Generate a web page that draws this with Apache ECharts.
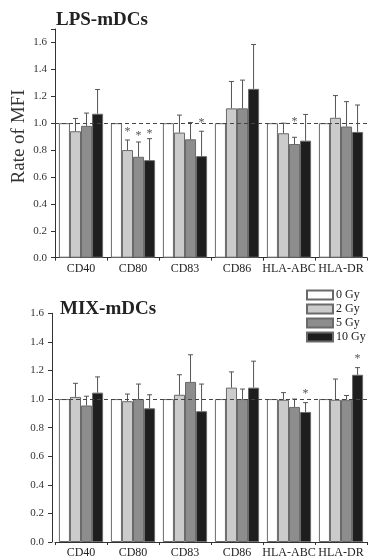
<!DOCTYPE html>
<html>
<head>
<meta charset="UTF-8">
<script src="https://cdn.jsdelivr.net/npm/echarts@6/dist/echarts.min.js"></script>
<style>
  html, body, #chart { margin: 0; padding: 0; width: 368px; height: 559px; background: #fff; }
</style>
</head>
<body>
<div id="chart"></div>
<script>
    var markers = ["CD40", "CD80", "CD83", "CD86", "HLA-ABC", "HLA-DR"];
    var doses = ["0 Gy", "2 Gy", "5 Gy", "10 Gy"];

    // LPS-mDCs: mean rate of MFI and top of error bar, per dose
    var lps0 = [1, 1, 1, 1, 1, 1];
    var lps2 = [0.94, 0.80, 0.93, 1.11, 0.925, 1.04];
    var lps5 = [0.98, 0.75, 0.88, 1.11, 0.845, 0.975];
    var lps10 = [1.07, 0.725, 0.755, 1.255, 0.87, 0.935];
    var lps2Err = [1.035, 0.875, 1.06, 1.31, 1.0, 1.205];
    var lps5Err = [1.075, 0.86, 1.005, 1.32, 0.895, 1.16];
    var lps10Err = [1.25, 0.885, 0.94, 1.585, 1.065, 1.135];
    // asterisk levels (0 = none)
    var lps2Star = [0, 0.955, 0, 0, 0, 0];
    var lps5Star = [0, 0.93, 0, 0, 1.035, 0];
    var lps10Star = [0, 0.945, 1.025, 0, 0, 0];

    // MIX-mDCs
    var mix0 = [1, 1, 1, 1, 1, 1];
    var mix2 = [1.015, 0.985, 1.03, 1.08, 0.995, 0.995];
    var mix5 = [0.955, 1.0, 1.12, 1.0, 0.945, 0.995];
    var mix10 = [1.045, 0.935, 0.915, 1.08, 0.91, 1.17];
    var mix2Err = [1.11, 1.035, 1.17, 1.19, 1.045, 1.14];
    var mix5Err = [1.02, 1.105, 1.31, 1.07, 1.0, 1.025];
    var mix10Err = [1.155, 1.03, 1.105, 1.265, 0.975, 1.22];
    var mix2Star = [0, 0, 0, 0, 0, 0];
    var mix5Star = [0, 0, 0, 0, 0, 0];
    var mix10Star = [0, 0, 0, 0, 1.055, 1.305];

    var yTicks = ["0.0", "0.2", "0.4", "0.6", "0.8", "1.0", "1.2", "1.4", "1.6"];

    var fills = ["#ffffff", "#cbcbcb", "#8d8d8d", "#1e1e1e"];
    var serif = "Liberation Serif";
    var gapRatio = 0.15;

    var myChart = echarts.init(document.getElementById("chart"));

    function errItems(vals, errs, stars) {
        var out = [];
        for (var d = 0; d < vals.length; d++) {
            for (var i = 0; i < markers.length; i++) {
                out.push([i, d + 1, vals[d][i], errs[d][i], stars[d][i]]);
            }
        }
        return out;
    }

    function renderErr(params, api) {
        var cat = api.value(0), k = api.value(1);
        var base = api.coord([cat, api.value(2)]);
        var top = api.coord([cat, api.value(3)]);
        var band = api.size([1, 0])[0];
        var bw = band * (1 - gapRatio) / 4;
        var x = base[0] + (k - 1.5) * bw;
        var style = { stroke: "#555", lineWidth: 1 };
        var children = [
            { type: "line", shape: { x1: x, y1: base[1], x2: x, y2: top[1] }, style: style },
            { type: "line", shape: { x1: x - 2.5, y1: top[1], x2: x + 2.5, y2: top[1] }, style: style }
        ];
        var s = api.value(4);
        if (s > 0) {
            var sp = api.coord([cat, s]);
            children.push({
                type: "text",
                style: { text: "*", x: x, y: sp[1] + 3, fill: "#555", font: "12px " + serif, align: "center", verticalAlign: "middle" }
            });
        }
        return { type: "group", children: children };
    }

    function barSeries(gi, data) {
        return doses.map(function (name, d) {
            var s = {
                name: name,
                type: "bar",
                xAxisIndex: gi,
                yAxisIndex: gi,
                data: data[d],
                barGap: "0%",
                barCategoryGap: (gapRatio * 100) + "%",
                itemStyle: { color: fills[d], borderColor: "#6a6a6a", borderWidth: 1 }
            };
            if (d === 3) {
                s.markLine = {
                    silent: true,
                    symbol: "none",
                    label: { show: false },
                    lineStyle: { type: [4, 3], color: "#444", width: 1 },
                    data: [{ yAxis: 1 }],
                    z: 10
                };
            }
            return s;
        });
    }

    function xAxis(gi) {
        return {
            type: "category",
            gridIndex: gi,
            data: markers,
            axisLine: { lineStyle: { color: "#333" } },
            axisTick: { show: true, length: 3, lineStyle: { color: "#333" } },
            axisLabel: { fontFamily: serif, fontSize: 12, color: "#222", margin: 5, interval: 0 }
        };
    }

    function yAxis(gi, max, offset) {
        return {
            type: "value",
            gridIndex: gi,
            min: 0,
            max: max,
            interval: 0.2,
            offset: offset,
            splitLine: { show: false },
            axisLine: { show: true, lineStyle: { color: "#333" } },
            axisTick: { show: true, length: 4, lineStyle: { color: "#333" } },
            axisLabel: {
                fontFamily: serif, fontSize: 11, color: "#333", margin: 8,
                formatter: function (v) {
                    var idx = Math.round(v / 0.2);
                    return (Math.abs(v - idx * 0.2) < 1e-6 && yTicks[idx]) ? yTicks[idx] : "";
                }
            }
        };
    }

    var series = []
        .concat(barSeries(0, [lps0, lps2, lps5, lps10]))
        .concat(barSeries(1, [mix0, mix2, mix5, mix10]));
    series.push({
        type: "custom", xAxisIndex: 0, yAxisIndex: 0, z: 5,
        renderItem: renderErr,
        data: errItems([lps2, lps5, lps10], [lps2Err, lps5Err, lps10Err], [lps2Star, lps5Star, lps10Star])
    });
    series.push({
        type: "custom", xAxisIndex: 1, yAxisIndex: 1, z: 5,
        renderItem: renderErr,
        data: errItems([mix2, mix5, mix10], [mix2Err, mix5Err, mix10Err], [mix2Star, mix5Star, mix10Star])
    });

    myChart.setOption({
        animation: false,
        title: [
            { text: "LPS-mDCs", left: 51, top: 6, textStyle: { fontFamily: serif, fontSize: 19, fontWeight: "bold", color: "#222" } },
            { text: "MIX-mDCs", left: 55, top: 295, textStyle: { fontFamily: serif, fontSize: 19, fontWeight: "bold", color: "#222" } }
        ],
        legend: {
            data: doses,
            orient: "vertical",
            left: 301,
            top: 284,
            icon: "rect",
            itemWidth: 26,
            itemHeight: 9,
            itemGap: 2,
            textStyle: { fontFamily: serif, fontSize: 12, color: "#222", padding: [0, 0, 0, -2] }
        },
        graphic: [{
            type: "text",
            x: 19.5,
            y: 136.5,
            rotation: Math.PI / 2,
            style: { text: "Rate of MFI", font: "19px " + serif, fill: "#333", align: "center", verticalAlign: "middle" }
        }],
        grid: [
            { left: 55, right: 1, top: 29, height: 228.7 },
            { left: 55, right: 1, top: 313.3, height: 231 }
        ],
        xAxis: [xAxis(0), xAxis(1)],
        yAxis: [yAxis(0, 1.7, 0), yAxis(1, 1.6, 3)],
        series: series
    });
</script>
</body>
</html>
